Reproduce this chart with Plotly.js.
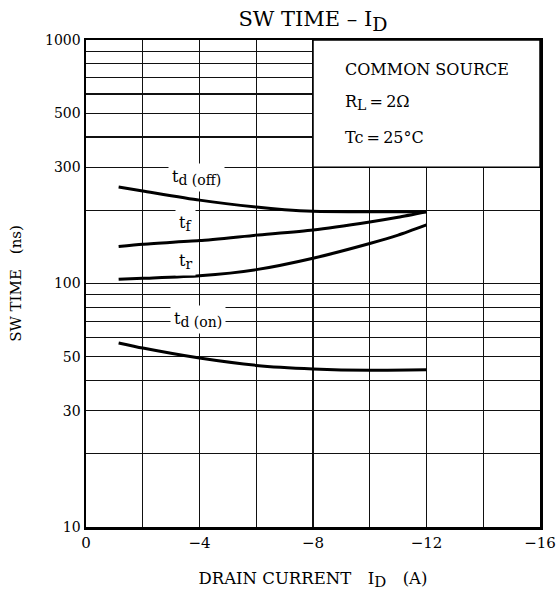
<!DOCTYPE html>
<html><head><meta charset="utf-8">
<script src="https://cdn.plot.ly/plotly-3.0.1.min.js"></script>
<style>html,body{margin:0;padding:0;background:#fff}#chart{width:557px;height:593px}</style>
</head><body><div id="chart"></div>
<script>
// Data (drain current in A, switching time in ns)
const tdOffX = [-1.15, -2, -4, -6, -7, -8, -10, -12];
const tdOffY = [249, 240, 220, 206, 201, 198, 197, 197];
const tfX = [-1.15, -2, -4, -6, -8, -10, -11, -12];
const tfY = [142, 145, 150, 158, 166, 179, 187, 197];
const trX = [-1.15, -2, -4, -6, -8, -10, -11, -12];
const trY = [104, 105, 107.5, 114, 127, 146, 158, 174];
const tdOnX = [-1.15, -2, -4, -6, -8, -10, -12];
const tdOnY = [57, 54.3, 49.4, 46.1, 44.6, 44.0, 44.2];

const xTickVals = [0, -4, -8, -12, -16];
const xTickText = ['0', '\u22124', '\u22128', '\u221212', '\u221216'];
const xMinorVals = [-2, -6, -10, -14];
const yTickVals = [10, 30, 50, 100, 300, 500, 1000];
const yTickText = ['10', '30', '50', '100', '300', '500', '1000'];
const yMinorVals = [20, 40, 60, 70, 80, 90, 200, 400, 600, 700, 800, 900];

const curveLabels = [
  {main: 't', sub: 'd (off)', x: -3.9, y: 272},
  {main: 't', sub: 'f', x: -3.5, y: 177},
  {main: 't', sub: 'r', x: -3.5, y: 123},
  {main: 't', sub: 'd (on)', x: -3.95, y: 71}
];
const noteLines = ['COMMON SOURCE', 'R<sub><span style="font-size:14px">L</span></sub>\u2009=\u20092\u03a9', 'Tc\u2009=\u200925\u00b0C'];

const FONT = 'DejaVu Serif, Liberation Serif, serif';
const lineStyle = {color: '#000', width: 3, shape: 'spline', smoothing: 0.6};
const series = [[tdOffX, tdOffY], [tfX, tfY], [trX, trY], [tdOnX, tdOnY]];
const traces = series.map(s => ({
  x: s[0], y: s[1], type: 'scatter', mode: 'lines', line: lineStyle,
  showlegend: false, hoverinfo: 'skip'
}));

const annotations = curveLabels.map(l => ({
  text: l.main + '<sub><span style="font-size:14px">' + l.sub + '</span></sub>',
  x: l.x, y: Math.log10(l.y), xref: 'x', yref: 'y',
  showarrow: false, bgcolor: '#fff', borderpad: 3,
  font: {family: FONT, size: 16, color: '#000'}
}));
const noteY = [0.94, 0.872, 0.8];
noteLines.forEach((t, i) => annotations.push({
  text: t, xref: 'paper', yref: 'paper', x: 0.566, y: noteY[i],
  xanchor: 'left', yanchor: 'middle', showarrow: false,
  font: {family: FONT, size: 16, color: '#000'}
}));

const gridStyle = {showgrid: true, gridcolor: '#111', gridwidth: 1.2};
const layout = {
  width: 557, height: 593,
  margin: {l: 86, r: 17, t: 40, b: 66},
  paper_bgcolor: '#fff', plot_bgcolor: '#fff',
  font: {family: FONT, color: '#000', size: 14},
  title: {text: 'SW TIME \u2013 I<sub><span style="font-size:19px">D</span></sub>', x: 0.5, xref: 'paper', xanchor: 'center',
          y: 0.968, yref: 'container', yanchor: 'middle',
          font: {family: FONT, size: 21, color: '#000'}},
  xaxis: Object.assign({
    range: [0, -16], tickmode: 'array', tickvals: xTickVals, ticktext: xTickText,
    zeroline: false, showline: true, linecolor: '#000', linewidth: 2.5, mirror: true,
    ticks: '', tickfont: {family: FONT, size: 15},
    minor: Object.assign({tickmode: 'array', tickvals: xMinorVals, ticks: ''}, gridStyle),
    title: {text: 'DRAIN CURRENT\u2003I<sub><span style="font-size:15px">D</span></sub>\u2003(A)', font: {family: FONT, size: 16.5}, standoff: 22}
  }, gridStyle),
  yaxis: Object.assign({
    type: 'log', range: [1, 3], tickmode: 'array', tickvals: yTickVals, ticktext: yTickText,
    zeroline: false, showline: true, linecolor: '#000', linewidth: 2.5, mirror: true,
    ticks: '', tickfont: {family: FONT, size: 14},
    minor: Object.assign({tickmode: 'array', tickvals: yMinorVals, ticks: ''}, gridStyle),
    title: {text: 'SW TIME\u2003(ns)', font: {family: FONT, size: 15}, standoff: 20}
  }, gridStyle),
  shapes: [{
    type: 'rect', xref: 'x', yref: 'y', x0: -8, x1: -16, y0: 300, y1: 1000,
    fillcolor: '#fff', line: {color: '#000', width: 1.5}, layer: 'between'
  }],
  annotations: annotations
};

Plotly.newPlot('chart', traces, layout, {displayModeBar: false, staticPlot: true});
</script></body></html>
